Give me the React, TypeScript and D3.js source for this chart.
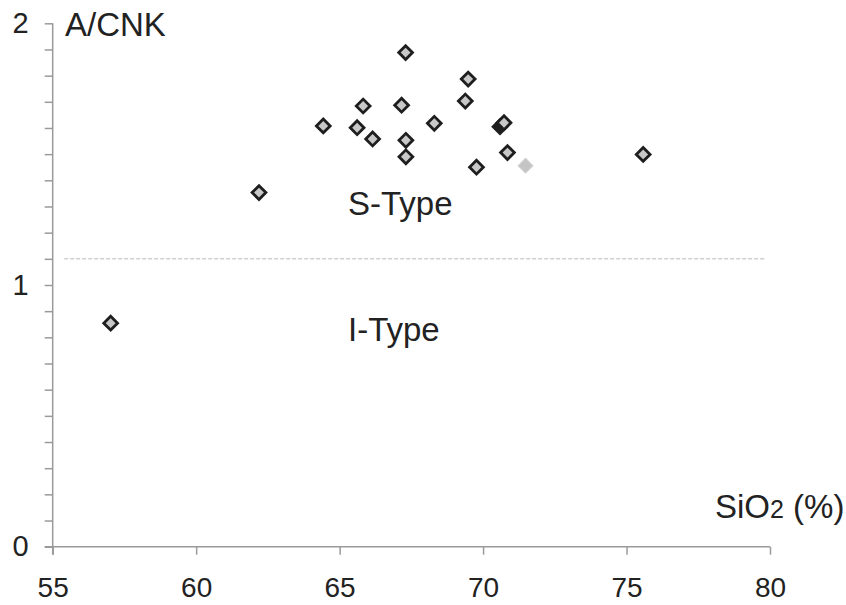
import React, { useRef, useEffect } from "react";
import * as d3 from "d3";

// SiO2 (%) vs A/CNK samples
const silica = [57.02, 62.19, 64.43, 65.61, 65.82, 66.15, 67.16, 67.3, 67.31, 67.31, 68.3, 69.38, 69.48, 69.77, 70.73, 70.85, 75.58];
const acnk = [0.854, 1.353, 1.608, 1.601, 1.684, 1.558, 1.687, 1.888, 1.553, 1.49, 1.618, 1.703, 1.787, 1.45, 1.62, 1.506, 1.499];

// single odd samples
const darkSample = [70.59, 1.605];
const lightSample = [71.48, 1.456];

const xTicks = [55, 60, 65, 70, 75, 80];
const yMajor = [0, 1, 2];
const boundary = 1.1;
const boundaryExtent = [55.4, 79.8];

const App = () => {
  const svgRef = useRef<SVGSVGElement>(null);

  useEffect(() => {
    const width = 846;
    const height = 605;
    const margin = { top: 23.3, right: 76, bottom: 58.3, left: 52.7 };

    const svg = d3.select(svgRef.current);
    svg.selectAll("*").remove();

    const x = d3.scaleLinear().domain([55, 80]).range([margin.left, width - margin.right]);
    const y = d3.scaleLinear().domain([0, 2]).range([height - margin.bottom, margin.top]);

    const font = "'Liberation Sans', Arial, sans-serif";
    const axisColor = "#9a9a9a";

    // x axis
    const xAxis = svg
      .append("g")
      .attr("transform", `translate(0,${y(0)})`)
      .call(d3.axisBottom(x).tickValues(xTicks).tickSize(8).tickSizeOuter(0).tickPadding(22).tickFormat(d3.format("d")));
    xAxis.select(".domain").remove();
    xAxis.selectAll(".tick line").attr("stroke", axisColor).attr("stroke-width", 1.5);
    xAxis.selectAll("text").attr("font-family", font).attr("font-size", 28).attr("fill", "#222");
    svg
      .append("line")
      .attr("x1", x(55) - 8)
      .attr("x2", x(80))
      .attr("y1", y(0))
      .attr("y2", y(0))
      .attr("stroke", axisColor)
      .attr("stroke-width", 1.5);

    // y axis, minor ticks every 0.1
    const yAxis = svg
      .append("g")
      .attr("transform", `translate(${x(55)},0)`)
      .call(
        d3
          .axisLeft(y)
          .tickValues(d3.range(0, 21).map((i) => i / 10))
          .tickSize(8)
          .tickSizeOuter(0)
          .tickPadding(16)
          .tickFormat((d) => (yMajor.includes(+d) ? String(d) : ""))
      );
    yAxis.select(".domain").remove();
    yAxis.selectAll(".tick line").attr("stroke", axisColor).attr("stroke-width", 1.5);
    yAxis.selectAll("text").attr("font-family", font).attr("font-size", 29).attr("fill", "#222");
    svg
      .append("line")
      .attr("x1", x(55))
      .attr("x2", x(55))
      .attr("y1", y(2))
      .attr("y2", y(0) + 8)
      .attr("stroke", axisColor)
      .attr("stroke-width", 1.5);

    // S / I boundary
    svg
      .append("line")
      .attr("x1", x(boundaryExtent[0]))
      .attr("x2", x(boundaryExtent[1]))
      .attr("y1", y(boundary))
      .attr("y2", y(boundary))
      .attr("stroke", "#cfcfcf")
      .attr("stroke-width", 1.5)
      .attr("stroke-dasharray", "4,2");

    // labels
    const label = (tx, ty, t, size = 33) =>
      svg
        .append("text")
        .attr("x", tx)
        .attr("y", ty)
        .attr("font-family", font)
        .attr("font-size", size)
        .attr("fill", "#222")
        .text(t);
    label(65, 36, "A/CNK");
    label(348, 215, "S-Type");
    label(348, 341, "I-Type");
    const si = svg
      .append("text")
      .attr("x", 715)
      .attr("y", 518)
      .attr("font-family", font)
      .attr("font-size", 33)
      .attr("fill", "#222");
    si.append("tspan").text("SiO");
    si.append("tspan").attr("font-size", 25).text("2");
    si.append("tspan").text(" (%)");

    // markers
    const diamond = d3.symbol(d3.symbolSquare, 95);

    svg
      .append("path")
      .attr("d", diamond)
      .attr("transform", `translate(${x(darkSample[0])},${y(darkSample[1])}) rotate(45)`)
      .attr("fill", "#1e1e1e")
      .attr("stroke", "#1e1e1e")
      .attr("stroke-width", 2.8);

    svg
      .append("g")
      .selectAll("path")
      .data(silica)
      .join("path")
      .attr("d", diamond)
      .attr("transform", (d, i) => `translate(${x(d)},${y(acnk[i])}) rotate(45)`)
      .attr("fill", "#c8c8c8")
      .attr("stroke", "#1e1e1e")
      .attr("stroke-width", 2.8);

    svg
      .append("path")
      .attr("d", d3.symbol(d3.symbolSquare, 110))
      .attr("transform", `translate(${x(lightSample[0])},${y(lightSample[1])}) rotate(45)`)
      .attr("fill", "#c4c4c4")
      .attr("stroke", "#d0d0d0")
      .attr("stroke-width", 1);
  }, []);

  return (
    <svg
      ref={svgRef}
      width={846}
      height={605}
      style={{ position: "absolute", left: 0, top: 0, background: "#fff" }}
    />
  );
};

export default App;
